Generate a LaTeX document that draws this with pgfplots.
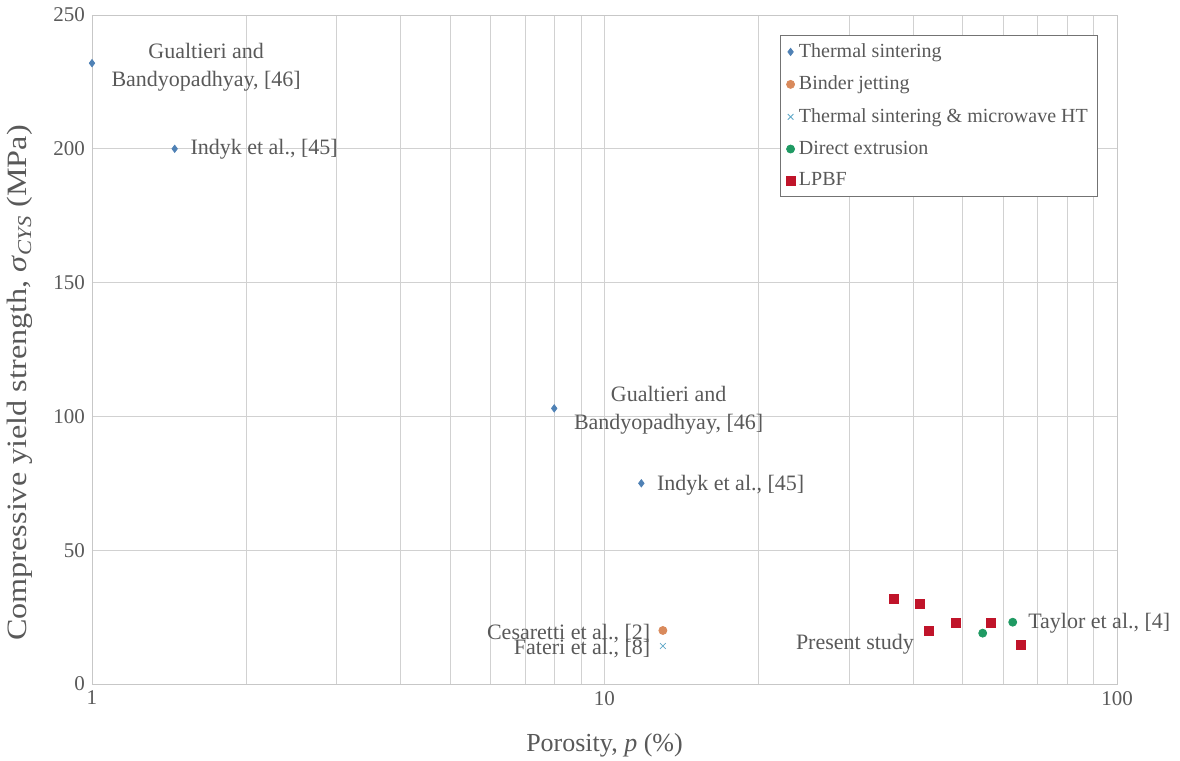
\documentclass[border=0pt]{standalone}
\usepackage{fontspec}
\setmainfont{Liberation Serif}
\usepackage{pgfplots}
\pgfplotsset{compat=1.18}
\definecolor{txt}{HTML}{595959}
\definecolor{tsblue}{HTML}{4F81B5}
\definecolor{bjorange}{HTML}{D98A5C}
\definecolor{mwblue}{HTML}{5FA8C8}
\definecolor{degreen}{HTML}{1F9A63}
\definecolor{lpred}{HTML}{C0142A}
\begin{document}
\begin{tikzpicture}
\begin{axis}[
  scale only axis, width=512.5pt, height=334.5pt,
  xmode=log, xmin=1, xmax=100, ymin=0, ymax=250,
  clip=false,
  ytick={0,50,...,250},
  xtick={1,10,100}, xticklabels={1,10,100},
  minor xtick={2,3,4,5,6,7,8,9,20,30,40,50,60,70,80,90},
  grid=both, major grid style={black!18}, minor grid style={black!18},
  axis line style={black!22},
  major tick length=0pt, minor tick length=0pt,
  /pgf/number format/assume math mode=true,
  tick label style={font=\fontsize{10.5}{12}\selectfont, text=txt},
  xlabel={Porosity, \textit{p} (\%)},
  ylabel={Compressive yield strength, \textit{σ}\textsubscript{\textit{CYS}} (MPa)},
  xlabel style={font=\fontsize{13}{15}\selectfont, text=txt, at={(axis description cs:0.5,-0.0912)}, anchor=center},
  ylabel style={font=\fontsize{14}{16}\selectfont, text=txt, at={(axis description cs:-0.0702,0.45)}, anchor=center, xscale=1.15},
  legend style={at={(axis description cs:0.671,0.970)}, anchor=north west,
    draw=black!55, font=\fontsize{10}{12}\selectfont, text=txt,
    cells={anchor=west}, row sep=3.8pt, inner xsep=3pt, inner ysep=2pt},
  legend image code/.code={\draw[mark repeat=2,mark phase=2] plot coordinates {(0cm,0cm) (0.18cm,0cm) (0.36cm,0cm)};},
]
\addplot[only marks, mark=diamond*, mark size=1.8pt, color=tsblue] coordinates {(1,232) (1.45,200) (7.98,103) (11.8,75)};
\addlegendentry{Thermal sintering}
\addplot[only marks, mark=*, mark size=2pt, color=bjorange] coordinates {(13,20)};
\addlegendentry{Binder jetting}
\addplot[only marks, mark=x, mark size=2pt, color=mwblue] coordinates {(13,14.2)};
\addlegendentry{Thermal sintering \& microwave HT}
\addplot[only marks, mark=*, mark size=2pt, color=degreen] coordinates {(54.7,19) (62.6,23.1)};
\addlegendentry{Direct extrusion}
\addplot[only marks, mark=square*, mark size=2.2pt, color=lpred] coordinates {(36.7,31.7) (41.2,29.9) (42.9,19.8) (48.5,22.8) (56.7,22.8) (64.9,14.6)};
\addlegendentry{LPBF}
\begin{scope}[every node/.style={font=\fontsize{11}{13}\selectfont, text=txt, inner sep=0pt}]
\node[align=center, anchor=center] at (axis cs:1.67,230.6) {Gualtieri and\\[1pt]Bandyopadhyay, [46]};
\node[anchor=west] at (axis cs:1.554,200) {Indyk et al., [45]};
\node[align=center, anchor=center] at (axis cs:13.34,102.4) {Gualtieri and\\[1pt]Bandyopadhyay, [46]};
\node[anchor=west] at (axis cs:12.64,74.4) {Indyk et al., [45]};
\node[anchor=east] at (axis cs:12.3,18.8) {Cesaretti et al., [2]};
\node[anchor=east] at (axis cs:12.3,13.1) {Fateri et al., [8]};
\node[anchor=west] at (axis cs:23.6,14.8) {Present study};
\node[anchor=west] at (axis cs:67.0,22.8) {Taylor et al., [4]};
\end{scope}
\end{axis}
\pgfresetboundingbox
\path (-46pt,-38.5pt) rectangle (544pt,342pt);
\end{tikzpicture}
\end{document}
